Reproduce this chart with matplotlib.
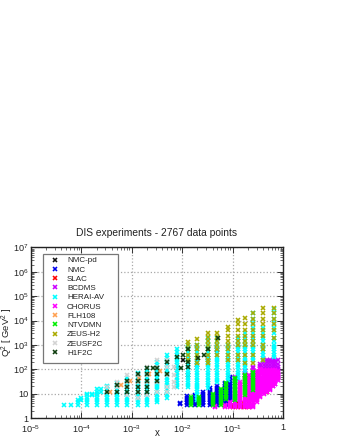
import matplotlib
matplotlib.use('Agg')
import matplotlib.pyplot as plt
from matplotlib.patches import Rectangle
from matplotlib.ticker import FixedLocator, NullFormatter

plt.rcParams['font.family'] = ['Liberation Sans', 'DejaVu Sans']
plt.rcParams['mathtext.fontset'] = 'custom'
plt.rcParams['mathtext.rm'] = 'Liberation Sans'
plt.rcParams['mathtext.default'] = 'regular'

title = 'DIS experiments - 2767 data points'
x_ticks = [1e-5, 1e-4, 1e-3, 1e-2, 1e-1, 1]
x_labels = ['$10^{-5}$', '$10^{-4}$', '$10^{-3}$', '$10^{-2}$', '$10^{-1}$', '1']
y_ticks = [1, 10, 1e2, 1e3, 1e4, 1e5, 1e6, 1e7]
y_labels = ['1', '10', '$10^{2}$', '$10^{3}$', '$10^{4}$', '$10^{5}$', '$10^{6}$', '$10^{7}$']

# each experiment: x positions and the Q2 values measured at each x
heraav_x = [4.5e-5, 6.2e-5, 8.5e-5, 1e-4, 1.3e-4, 1.6e-4, 2e-4, 2.5e-4, 3.2e-4, 5e-4, 8e-4, 1.3e-3, 2e-3, 3.2e-3, 5e-3,
            8e-3, 1.3e-2, 2e-2, 3.2e-2, 5e-2, 8e-2, 0.13, 0.18, 0.25, 0.4, 0.65]
heraav_q = [[3.5], [3.5], [3.5, 4.5, 5.5], [5.5, 6.5], [3.5, 4.5, 5.5, 6.5, 8.5, 10], [8.5, 10],
            [3.5, 4.5, 5.5, 6.5, 8.5, 10, 12, 15], [12, 15],
            [3.5, 4.5, 5.5, 6.5, 8.5, 10, 12, 15, 18, 20],
            [3.5, 4.5, 5.5, 6.5, 8.5, 10, 12, 15, 18, 22, 27],
            [3.5, 4.5, 5.5, 6.5, 8.5, 10, 12, 15, 18, 22, 27, 35, 45],
            [3.5, 4.5, 5.5, 6.5, 8.5, 10, 12, 15, 18, 22, 27, 35, 45, 60, 70],
            [3.5, 4.5, 5.5, 6.5, 8.5, 10, 12, 15, 18, 22, 27, 35, 45, 60, 70, 90, 115],
            [4.5, 5.5, 6.5, 8.5, 10, 12, 15, 18, 22, 27, 35, 45, 60, 70, 90, 120, 150, 200],
            [6.5, 8.5, 10, 12, 15, 18, 22, 27, 35, 45, 60, 70, 90, 120, 150, 200, 250, 300, 400],
            [18, 22, 27, 35, 45, 60, 70, 90, 120, 150, 200, 250, 300, 400, 500, 650],
            [18, 22, 27, 35, 45, 60, 70, 90, 120, 150, 200, 250, 300, 400, 500, 650, 800, 1000],
            [5.5, 6.5, 8.5, 10, 12, 15, 18, 22, 27, 35, 45, 60, 70, 90, 120, 150, 200, 250, 300, 400, 500, 650, 800, 1000],
            [17, 22, 27, 35, 45, 60, 70, 90, 120, 150, 200, 250, 300, 400, 500, 650, 800, 1000, 1500, 2000],
            [30, 35, 45, 60, 70, 90, 120, 150, 200, 250, 300, 400, 500, 650, 800, 1000, 1500, 2000],
            [36, 45, 60, 70, 90, 120, 150, 200, 250, 300, 400, 500, 650, 800, 1000],
            [36, 45, 60, 70, 90, 120, 150, 200, 250, 300, 400, 500, 650, 800, 1000, 1500, 2000],
            [70, 90, 120, 150, 200, 250, 300, 400, 500, 650, 800, 1000, 1500, 2000, 3000],
            [240, 300, 400, 500, 650, 800, 1000, 1500, 2000, 3000, 5000, 8000, 12000, 20000],
            [240, 300, 400, 500, 650, 800, 1000, 1500, 2000, 3000, 5000],
            [320, 400, 500, 650, 800, 1000, 1500, 2000, 3000, 5000, 8000, 12000, 20000, 30000]]

zeus_x = [1.3e-2, 2e-2, 3.2e-2, 5e-2, 8e-2, 0.13, 0.18, 0.25, 0.4, 0.65]
zeus_q = [[250, 400, 650, 1000, 1300], [180, 300, 400, 650, 1000, 1700], [180, 250, 400, 650, 1000, 1500, 2200, 3200],
          [400, 650, 1000, 1500, 2200, 3200], [240, 400, 650, 1000, 1500, 2400, 4000, 5600],
          [240, 400, 1000, 1500, 2400, 4000, 7000, 11000], [180, 400, 1000, 1500, 2400, 4000, 7000, 13000],
          [180, 400, 1000, 1500, 2400, 4000, 7000, 12000, 20000],
          [240, 650, 1000, 2400, 4000, 7000, 12000, 20000, 32000],
          [2000, 4000, 7000, 12000, 20000, 32000]]

zeusf2c_x = [3.2e-4, 5e-4, 8e-4, 1.3e-3, 2e-3, 3.2e-3, 5e-3, 7e-3]
zeusf2c_q = [[12, 18], [18, 30], [8.5, 18, 30, 60], [6.5, 12, 30, 60], [8.5, 30, 60, 130],
             [12, 30, 130, 250], [12, 18, 60, 130, 250], [18, 30, 60, 130]]

flh_x = [3.7e-4, 6.1e-4, 9.2e-4, 1.4e-3, 2.2e-3, 3.6e-3]
flh_q = [[12], [22], [33], [45], [65], [85]]

h1f2c_x = [3.2e-4, 5e-4, 8e-4, 1.3e-3, 2e-3, 2.6e-3, 3.2e-3, 5e-3, 8e-3, 9.5e-3, 1.05e-2, 1.3e-2, 2.05e-2, 2.65e-2, 3.3e-2, 5.2e-2]
h1f2c_q = [[12], [12, 23], [12, 19, 33], [12, 19, 33, 65], [12, 19, 33, 65, 113], [113], [33, 65, 113], [65, 200],
           [320], [115], [390], [125, 200, 690], [295], [390], [690], [1950]]

nmcpd_x = [8e-3, 1.05e-2, 1.3e-2, 2e-2, 3.2e-2, 5e-2]
nmcpd_q = [[130], [230], [60, 250], [150], [300], [600]]

nmc_x = [9.2e-3, 1.25e-2, 1.8e-2, 2.6e-2, 3.5e-2, 5e-2, 7e-2, 8e-2, 9e-2, 0.11]
nmc_q = [[3.7, 4], [3.4, 4, 4.7, 5.5, 6.5, 8], [3.4, 4, 4.7, 5.5, 6.5, 8, 9],
         [3.4, 4, 4.7, 5.5, 6.5, 8, 9.5, 12], [3.4, 4, 4.7, 5.5, 6.5, 8, 9.5, 12, 14.5, 17],
         [3.4, 4, 4.7, 5.5, 6.5, 8, 9.5, 12, 14.5, 17, 20], [3.4, 4, 4.7, 5.5, 6.5, 8, 9.5, 12, 14.5, 17, 20, 24, 27],
         [3.4, 4, 4.7, 5.5, 6.5, 8, 9.5], [3.4, 4, 4.7, 5.5, 6.5, 8, 9.5, 12, 14.5, 17, 20, 24, 28, 34, 42, 50],
         [4, 4.7, 5.5, 6.5, 8, 10, 14, 20, 30, 45]]

slac_x = [0.1, 0.13, 0.17, 0.21, 0.48]
slac_q = [[2.8, 3.1, 3.5], [2.8, 3.1, 3.5, 4], [2.8, 3.1, 3.5, 4], [2.8, 3.1, 3.5, 4, 4.6], [12]]

bcdms_x = [0.11, 0.176, 0.254, 0.35, 0.42, 0.48, 0.55, 0.62, 0.7, 0.78]
bcdms_q = [[42, 50], [58, 70, 82], [90, 110, 130], [110, 135, 165],
           [12, 16, 20, 26, 33, 42, 54, 70, 90, 115, 150, 190, 240], [14, 18, 24, 30, 38, 50, 65, 85, 110, 145, 190, 240],
           [16, 20, 26, 33, 42, 54, 70, 90, 115, 150, 190, 240], [20, 26, 33, 42, 54, 70, 90, 115, 150, 190, 240],
           [26, 33, 42, 54, 70, 90, 115, 150, 190, 240], [36, 46, 60, 76, 100, 130, 170, 240]]

chorus_x = [0.045, 0.07, 0.09, 0.11, 0.14, 0.176, 0.21, 0.254, 0.3, 0.35, 0.42, 0.48, 0.55, 0.63, 0.7, 0.78]
chorus_q = [[2.8, 3.1], [2.8, 3.1, 3.5], [2.8, 3.1, 3.5, 4, 4.6], [2.8, 3.1, 3.5, 4, 4.6, 5.5, 6.5, 8, 10, 12, 14],
            [2.8, 3.1, 3.5, 4, 4.6, 5.5, 6.5, 8, 10, 12, 14, 17, 20, 25, 30],
            [2.8, 3.1, 3.5, 4, 4.6, 5.5, 6.5, 8, 10, 12, 14, 17, 20, 25, 30, 36, 44, 52, 60],
            [2.8, 3.1, 3.5, 4, 4.6, 5.5, 6.5, 8, 10, 12, 14, 17, 20, 25, 30, 36, 44, 52, 60],
            [2.8, 3.1, 3.5, 4, 4.6, 5.5, 6.5, 8, 10, 12, 14, 17, 20, 25, 30, 36, 44, 52, 60, 72, 85],
            [4.6, 5.5, 6.5, 8, 10, 12, 14, 17, 20, 25, 30, 36, 44, 52, 60, 72, 85],
            [7, 8, 10, 12, 14, 17, 20, 25, 30, 36, 44, 52, 60, 72, 85, 100],
            [10, 12, 14, 17, 20, 25, 30, 36, 44, 52, 60, 72, 85, 95],
            [12, 14, 17, 20, 25, 30, 36, 44, 52, 60, 72, 85, 95],
            [14, 17, 20, 25, 30, 36, 44, 52, 60, 72, 85, 95],
            [20, 25, 30, 36, 44, 52, 60, 72, 85, 95],
            [26, 30, 36, 44, 52, 60, 72, 85, 95], [36, 44, 52, 60, 72, 85]]

ntv_x = [1.5e-2, 2.2e-2, 4e-2, 6e-2, 7.5e-2, 0.11, 0.176, 0.254]
ntv_q = [[3.5, 4.2, 5, 6, 7], [3.5, 4.2, 5, 6, 7], [3.5, 4.2, 5, 6, 7, 8.5, 10], [3.5, 4.2, 5, 6, 7, 8.5, 10, 12, 14, 16],
         [6, 7, 8.5, 10, 12, 14, 16, 20, 24, 27], [5.5, 6.5, 8, 10, 12, 14, 17, 20, 24, 28, 34, 40, 44],
         [9, 11, 13, 15, 18, 22, 26, 31, 37, 44, 52, 58], [14, 17, 20, 24, 29, 35, 42, 50, 60, 70, 78]]

series = [('NMC-pd', nmcpd_x, nmcpd_q, '#111111', 3), ('NMC', nmc_x, nmc_q, '#0000ee', 4), ('SLAC', slac_x, slac_q, '#ff0000', 5),
          ('BCDMS', bcdms_x, bcdms_q, '#cc00ff', 6), ('HERAI-AV', heraav_x, heraav_q, '#00ffff', 7),
          ('CHORUS', chorus_x, chorus_q, '#ff00ff', 8), ('FLH108', flh_x, flh_q, '#ffa050', 9),
          ('NTVDMN', ntv_x, ntv_q, '#00ee00', 10), ('ZEUS-H2', zeus_x, zeus_q, '#aaaa00', 11),
          ('ZEUSF2C', zeusf2c_x, zeusf2c_q, '#d3d3d3', 12), ('H1F2C', h1f2c_x, h1f2c_q, '#0f3d0f', 13)]

fig = plt.figure(figsize=(3.4, 4.4), dpi=100)
ax = fig.add_axes([31 / 340, 1 - 418 / 440, 252 / 340, 170.5 / 440])
handles = []
for name, xs, qs, color, z in series:
    px = [x for x, q in zip(xs, qs) for _ in q]
    py = [v for q in qs for v in q]
    h, = ax.plot(px, py, ls='none', marker='x', ms=3.3, mew=1.15, color=color, zorder=z, label=name)
    handles.append(h)

ax.set_xscale('log')
ax.set_yscale('log')
ax.set_xlim(1e-5, 1)
ax.set_ylim(1, 1e7)
ax.set_xticks(x_ticks)
ax.set_xticklabels(x_labels)
ax.set_yticks(y_ticks)
ax.set_yticklabels(y_labels)
ax.xaxis.set_minor_locator(FixedLocator([m * d for d in x_ticks[:-1] for m in (2, 3, 4, 5, 6, 7, 8, 9)]))
ax.yaxis.set_minor_locator(FixedLocator([m * d for d in y_ticks[:-1] for m in (2, 3, 4, 5, 6, 7, 8, 9)]))
ax.xaxis.set_minor_formatter(NullFormatter())
ax.yaxis.set_minor_formatter(NullFormatter())
ax.tick_params(which='major', direction='in', length=4.5, width=0.7, top=True, right=True, color='#333333',
               labelsize=6.6, pad=1.5, labelcolor='#222222')
ax.tick_params(axis='x', which='major', pad=3.5)
ax.tick_params(which='minor', direction='in', length=2.5, width=0.6, top=True, right=True, color='#555555')
ax.grid(True, which='major', ls=':', lw=0.9, color='#a8a8a8')
ax.set_axisbelow(True)
for s in ax.spines.values():
    s.set_linewidth(1.0)
    s.set_color('#222222')
ax.set_title(title, fontsize=7.4, color='#222222', pad=8.5)
ax.set_xlabel('x', fontsize=7, color='#222222', labelpad=-4.5)
ax.set_ylabel('Q$^{2}$ [ GeV$^{2}$ ]', fontsize=6.8, color='#222222')
ax.yaxis.set_label_coords(-0.065, 0.5)

ax.add_patch(Rectangle((43 / 340, 1 - 362.5 / 440), 75 / 340, 108.5 / 440, transform=fig.transFigure, facecolor='white',
                       edgecolor='#777777', linewidth=0.9, zorder=19))
leg = ax.legend(handles=handles, loc='upper left', bbox_to_anchor=(0.0665, 0.955), borderaxespad=0, fontsize=5.8, frameon=False,
                labelspacing=0.2, handlelength=1.35, handletextpad=0.85, borderpad=0.2)
leg.set_zorder(20)
for t in leg.get_texts():
    t.set_color('#222222')
fig.savefig('out.png', dpi=100)
